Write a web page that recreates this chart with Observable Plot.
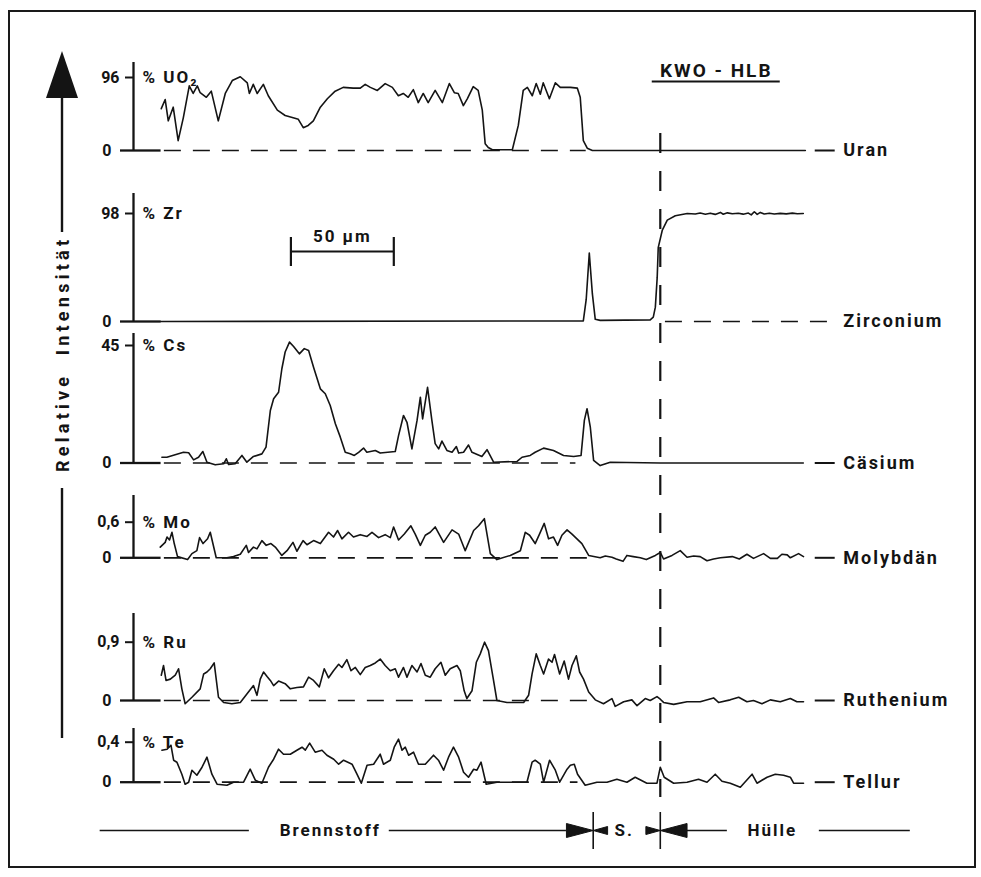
<!DOCTYPE html>
<html><head><meta charset="utf-8">
<script src="https://cdn.jsdelivr.net/npm/d3@7"></script>
<script src="https://cdn.jsdelivr.net/npm/@observablehq/plot@0.6"></script>
<style>
body{margin:0;background:#fff;}
#chart{position:relative;width:981px;height:877px;background:#fff;overflow:hidden;}
#chart svg{position:absolute;left:0;top:0;}
#chart g[aria-label="text"] text{letter-spacing:2px;}
.frame{position:absolute;left:8px;top:10px;width:964px;height:854px;border:2px solid #1a1a1a;}
</style></head><body>
<div id="chart"><div class="frame"></div></div>
<script>
// ---------------- data (x in µm, 0 = fuel/cladding interface) ----------------
const elements = ["Uran","Zirconium","Cäsium","Molybdän","Ruthenium","Tellur"];
const unitLabels = ["% UO₂","% Zr","% Cs","% Mo","% Ru","% Te"];
const maxima = [96, 98, 45, 0.6, 0.9, 0.4];
const maxLabels = ["96","98","45","0,6","0,9","0,4"];
const scaleBar = [-179.5, -129.5];      // 50 µm
const zoneNames = ["Brennstoff","S.","Hülle"];
const zoneBounds = [-32.6, 0];
const title = "KWO - HLB";

const uranData = [[-242.5,55],[-240.6,67],[-239.1,39],[-236.7,57],[-234.3,13],[-231.8,43],[-228.9,85],[-227,75],[-225,85],[-223.6,76],[-220.6,70],[-218.2,78],[-214.8,39],[-211.4,75],[-208,92],[-204.1,97],[-200.7,89],[-199.7,75],[-197.8,87],[-195.9,75],[-192.9,87],[-190.5,72],[-186.1,53],[-182.3,46],[-178.4,43],[-175.9,41],[-173.5,30],[-171.1,33],[-168.6,39],[-165.2,57],[-161.8,68],[-158,78],[-154.1,83],[-149.2,82],[-145.8,82],[-143.4,87],[-140.9,83],[-137.5,79],[-133.7,88],[-130.2,83],[-127.3,72],[-124.9,75],[-122.5,70],[-120,80],[-117.6,63],[-115.2,75],[-112.8,63],[-109.4,79],[-105.9,63],[-102.5,88],[-100.1,76],[-98.2,75],[-95.7,59],[-93.8,68],[-90.9,84],[-88.5,79],[-86.5,53],[-85.1,9],[-83.6,4],[-81.6,1],[-71.9,1],[-69,33],[-66.6,79],[-64.6,83],[-62.2,72],[-60.3,88],[-58.3,74],[-56.9,89],[-53.9,68],[-51,89],[-48.6,83],[-43.7,83],[-40.3,82],[-38.9,70],[-37.4,13],[-35.5,3],[-33,0],[0,0],[70.5,0]];

const zirconiumData = [[-243,0],[-37.4,0.5],[-36,20],[-34.5,62],[-33,25],[-31.6,2],[-29.2,1],[-4.9,1.5],[-3.4,4],[-2.4,13],[-1.5,40],[-1,67],[1,83],[3.4,92],[7.3,96],[13.1,98],[17,97.5],[19.4,98.5],[21.9,97.4],[24.3,98.3],[26.7,97.2],[29.2,99],[30.6,97.3],[32.6,98.6],[35,97.8],[37.9,98.2],[40.3,97.4],[42.8,98.4],[44.2,96.8],[45.7,99.6],[47.1,97.2],[48.6,99],[50.5,97.6],[53,98.3],[55.4,97.6],[58.3,98.1],[61.2,97.7],[64.2,98.3],[66.6,97.8],[69.5,98]];

const caesiumData = [[-242.2,2.2],[-239.8,2.2],[-231.7,4.1],[-229.2,3.9],[-226.8,1.2],[-224.4,2.2],[-222.3,4.4],[-220.3,0.3],[-216.3,-0.7],[-212.2,-0.3],[-210.9,1.6],[-209.8,-0.6],[-206.6,-0.3],[-203.3,2.9],[-200.9,0.3],[-197.7,2.5],[-193.6,3.5],[-191.6,6.1],[-189.5,20.1],[-187.9,24.6],[-185.5,27.1],[-183.9,36.1],[-182.3,42.5],[-180.2,46.3],[-178.2,44.6],[-175.4,41.8],[-173,43.8],[-170.9,43.1],[-168.5,36.7],[-165.2,28.4],[-162.8,26.5],[-160.4,22],[-157.9,15],[-155.5,9.9],[-153.1,4.1],[-150.7,3.5],[-148.7,2.9],[-146.6,4.1],[-144.2,5.7],[-142.6,4.1],[-138.5,4.8],[-136.1,3.8],[-128.8,4.4],[-127.2,10.5],[-124.8,18.2],[-123.1,15.6],[-120.7,5.4],[-118.2,16.3],[-116.6,25.2],[-115.5,16.9],[-113.1,29],[-111,16.3],[-109.4,7.4],[-107.7,5.4],[-106.1,8.4],[-103.7,4.8],[-101.2,4.1],[-99.1,6.3],[-98,3.8],[-95.6,4.1],[-93.2,6.9],[-91.5,4.1],[-86.7,2.5],[-84.2,5.1],[-81,0.3],[-69.6,0.6],[-67.2,2.2],[-63.2,2.9],[-60.8,4.1],[-56.7,5.7],[-51.9,4.8],[-47,2.9],[-42.1,2.5],[-38.5,2.9],[-36.9,16.3],[-35.6,20.8],[-34,13.7],[-32.4,1],[-29.2,-1],[-24.3,0.3],[0,0],[69.5,0]];

const molybdenumData = [[-243,0.18],[-240.6,0.26],[-239.7,0.35],[-238.5,0.3],[-237.3,0.43],[-236.2,0.24],[-234.6,0.02],[-229.7,-0.03],[-227.6,0.07],[-225.2,0.12],[-223.9,0.34],[-222.2,0.24],[-220,0.32],[-218.7,0.43],[-215.8,0],[-210.6,0],[-207.4,0.02],[-204.1,0.06],[-201.2,0.21],[-200.1,0.09],[-197.7,0.18],[-196,0.15],[-193.6,0.29],[-191.5,0.21],[-189.2,0.24],[-187.1,0.18],[-183.9,0.04],[-181.4,0.12],[-178.5,0.26],[-176.6,0.11],[-173.6,0.29],[-171.7,0.22],[-168.5,0.29],[-165.2,0.24],[-161.2,0.43],[-158.8,0.35],[-156.8,0.46],[-154.7,0.32],[-151.5,0.43],[-149.1,0.35],[-145.8,0.39],[-142.5,0.36],[-140.1,0.43],[-136.9,0.34],[-133.7,0.39],[-131.2,0.34],[-129.6,0.52],[-127.2,0.3],[-124.4,0.4],[-121.2,0.54],[-119.1,0.4],[-116.6,0.21],[-114.2,0.38],[-111.8,0.43],[-109.4,0.52],[-105.3,0.26],[-101.2,0.47],[-98,0.4],[-94.8,0.12],[-90.7,0.46],[-88.3,0.54],[-85.5,0.66],[-82.6,0.07],[-79.4,-0.03],[-72.9,0.04],[-68,0.12],[-65.6,0.43],[-63.5,0.38],[-60.8,0.24],[-58.7,0.4],[-56.4,0.58],[-54.3,0.32],[-51.9,0.35],[-49.9,0.21],[-47.8,0.38],[-45.3,0.47],[-42.9,0.4],[-40.5,0.32],[-38.1,0.24],[-34.8,0.04],[-29.2,0],[-26.7,0.03],[-23.5,0.01],[-21.4,-0.02],[-18.1,-0.06],[-16.2,0.04],[-13.1,0.02],[-9.7,0],[-6.8,-0.03],[-2.4,0.04],[0,0.09],[1.6,-0.02],[5.7,0.04],[9.7,0.12],[13,0.01],[16.2,0.03],[19.4,0.02],[22.7,-0.05],[25.9,-0.02],[29.2,0],[35,0.02],[38.4,-0.02],[42.1,0.06],[45.3,-0.01],[50.2,0.07],[53.5,-0.01],[56.9,-0.01],[59.1,0.06],[61.7,0.05],[63.2,0],[67.2,0.07],[69.6,0.02]];

const rutheniumData = [[-242.5,0.39],[-241.4,0.54],[-240.2,0.31],[-238.1,0.33],[-235.7,0.39],[-234.1,0.49],[-232.5,0.18],[-230.9,-0.05],[-227.6,0.05],[-223.6,0.18],[-221.9,0.41],[-220.3,0.44],[-218.7,0.49],[-216.8,0.58],[-214.7,0.05],[-212.2,-0.03],[-208.2,-0.05],[-204.1,-0.03],[-200.9,0.1],[-197.7,0.23],[-196,0.08],[-194.4,0.33],[-192.8,0.44],[-191.1,0.37],[-189.5,0.31],[-187.9,0.23],[-185.5,0.3],[-182.3,0.26],[-179.8,0.18],[-176.6,0.2],[-173.4,0.21],[-170.9,0.36],[-168.5,0.31],[-165.7,0.21],[-163.3,0.49],[-161.2,0.35],[-158.8,0.46],[-156.3,0.56],[-154.7,0.51],[-152.3,0.63],[-150.3,0.46],[-148.2,0.51],[-145.8,0.4],[-143.4,0.51],[-140.9,0.54],[-138.5,0.58],[-136.1,0.64],[-133.7,0.54],[-131.2,0.46],[-128.8,0.49],[-127.2,0.36],[-124.8,0.51],[-123.1,0.36],[-120.7,0.54],[-118.2,0.44],[-116.3,0.57],[-114.2,0.39],[-111.8,0.36],[-109.4,0.49],[-106.6,0.59],[-104.5,0.39],[-102.1,0.49],[-98.8,0.54],[-97.2,0.46],[-95.3,0.15],[-94,0.03],[-91.5,0.15],[-89.4,0.59],[-87.5,0.72],[-85.4,0.9],[-83.5,0.77],[-81.3,0.36],[-79.4,0],[-74.5,-0.03],[-66.4,-0.03],[-64,0.08],[-62.3,0.41],[-60.3,0.72],[-58.3,0.54],[-56.7,0.41],[-54.3,0.64],[-52.6,0.59],[-51.4,0.71],[-48.9,0.41],[-46.7,0.61],[-44.6,0.33],[-42.9,0.54],[-40.8,0.69],[-39.2,0.44],[-37.3,0.33],[-34.8,0.13],[-31.6,0.01],[-27.6,-0.05],[-23.5,0.03],[-21.9,-0.09],[-17.8,-0.02],[-13.8,0.01],[-11.3,-0.08],[-7.3,0.03],[-4.9,0],[-1.6,0.06],[0,0.02],[1.6,-0.03],[6.5,-0.06],[13,-0.02],[19.4,-0.02],[25.9,0.04],[28.3,-0.03],[34,0.01],[38.1,0.05],[42.1,-0.02],[45.3,0],[49.4,-0.05],[53.5,0.01],[58.3,-0.02],[63.2,0.03],[66.4,-0.02],[69.6,-0.02]];

const telluriumData = [[-242.2,0.32],[-239.7,0.33],[-237.8,0.37],[-236.5,0.22],[-234.9,0.2],[-232.5,0.08],[-230.9,-0.02],[-229.2,0],[-227.6,0.12],[-225.2,0.07],[-222.7,0.15],[-220.3,0.25],[-217.9,0.08],[-215.4,-0.02],[-210.6,-0.03],[-207.4,0],[-202.5,0],[-199.3,0.13],[-196.8,0.02],[-193.6,-0.01],[-190.4,0.15],[-187.9,0.23],[-185.5,0.33],[-183.1,0.28],[-179.8,0.28],[-176.6,0.32],[-174.1,0.35],[-172.5,0.32],[-170.4,0.39],[-167.7,0.3],[-164.4,0.32],[-162,0.27],[-158.7,0.23],[-156.3,0.18],[-153.9,0.22],[-149.8,0.18],[-147.4,0.08],[-145.3,-0.01],[-142.5,0.17],[-139.3,0.18],[-136.1,0.28],[-134.5,0.18],[-131.2,0.22],[-129.3,0.35],[-127.2,0.43],[-125.5,0.32],[-123.9,0.35],[-122.3,0.27],[-119.9,0.3],[-117.5,0.18],[-114.2,0.18],[-110.2,0.27],[-107.8,0.22],[-105.3,0.12],[-102.9,0.25],[-100.5,0.35],[-98,0.25],[-95.6,0.1],[-93.2,0.05],[-90.7,0.13],[-89.1,0.12],[-87.1,0.2],[-84.6,-0.02],[-79.4,0],[-72.9,0],[-64.8,0],[-62.3,0.2],[-60.8,0.22],[-58.3,0.18],[-56.7,0],[-53.8,0.22],[-51,0.12],[-48.9,0],[-45.3,0.13],[-43.7,0.17],[-41.8,0.18],[-40.2,0.08],[-36.5,-0.03],[-30.8,0],[-25.9,0],[-21.1,0.03],[-16.2,0],[-12.2,0.05],[-6.5,-0.01],[-1.6,-0.01],[0,0.15],[1.9,0.05],[6.5,-0.01],[13,0],[18.6,0.03],[22.7,0],[26.7,0.08],[30,0.01],[34,-0.01],[38.9,-0.05],[44.6,0.08],[47,-0.01],[51.9,0.05],[55.9,0.08],[59.9,0.07],[63.2,0.05],[64.8,-0.01],[69.6,-0.01]];

const series = [uranData, zirconiumData, caesiumData, molybdenumData, rutheniumData, telluriumData];

// ---------------- layout / style ----------------
const INK = "#141414";
const FONT = "Roboto, 'DejaVu Sans', sans-serif";
const W = 981, H = 877;
const X_DOMAIN = [-256, 73], X_RANGE = [133, 810];
const layout = [
  {zero:150,   max:77,    top:62,  dash:[-241,-36]},
  {zero:321,   max:213,   top:193, dash:[2.5,85]},
  {zero:462.5, max:345,   top:333, dash:[-241,-41]},
  {zero:557.3, max:521.7, top:495, dash:[-241,-35]},
  {zero:700,   max:641.7, top:613, dash:[-241,-33]},
  {zero:781.7, max:741.7, top:728, dash:[-241,-40]}
];
const svgStyle = `background:transparent;overflow:visible;font-family:${FONT};font-weight:700;color:${INK};`;
const chart = document.getElementById("chart");

function panel(i) {
  const L = layout[i];
  const m = maxima[i];
  const axisTop = m * (L.zero - L.top) / (L.zero - L.max);
  return Plot.plot({
    width: W, height: H,
    marginLeft: X_RANGE[0], marginRight: W - X_RANGE[1], marginTop: 0, marginBottom: 0,
    style: svgStyle,
    x: {domain: X_DOMAIN, range: X_RANGE, axis: null},
    y: {domain: [0, m], range: [L.zero, L.max], axis: null},
    marks: [
      Plot.ruleY([0], {x1: L.dash[0], x2: L.dash[1], stroke: INK, strokeWidth: 1.7, strokeDasharray: "17,12"}),
      Plot.ruleX([X_DOMAIN[0]], {y1: 0, y2: axisTop, stroke: INK, strokeWidth: 2.3}),
      Plot.ruleY([0], {x1: X_DOMAIN[0], x2: -242.6, stroke: INK, strokeWidth: 2.3}),
      Plot.axisY({ticks: [m], anchor: "left", tickSize: 8, tickPadding: 6, tickFormat: () => maxLabels[i], fontSize: 16, strokeWidth: 2, label: null}),
      Plot.axisY({ticks: [0], anchor: "left", tickSize: 13, tickPadding: 9, tickFormat: () => "0", fontSize: 16, strokeWidth: 2.3, label: null}),
      Plot.line(series[i], {x: d => d[0], y: d => d[1], stroke: INK, strokeWidth: 1.6, strokeLinejoin: "round"}),
      Plot.text([unitLabels[i]], {x: X_DOMAIN[0], y: m, dx: 9, textAnchor: "start", fontSize: 17, fill: INK}),
      i === 1 ? null : Plot.ruleY([0], {x1: 75.3, x2: 85, stroke: INK, strokeWidth: 2}),
      Plot.text([elements[i]], {x: 88.9, y: 0, textAnchor: "start", fontSize: 18, fill: INK})
    ]
  });
}
for (let i = 0; i < series.length; i++) chart.appendChild(panel(i));

// overlay: interface line, title, scale bar, zones
const b0 = zoneBounds[0], b1 = zoneBounds[1];
const yZ = 830;
function tri(tip, len, half, id) { return [[tip, yZ, id], [tip - len, yZ - half, id], [tip - len, yZ + half, id], [tip, yZ, id]]; }
const heads = [...tri(b0, 13, 7, "a"), ...tri(b0, -7, 4, "b"), ...tri(b1, 7, 4, "c"), ...tri(b1, -13, 7, "d")];
const zoneLines = [[-272.2, -199.7], [-131.7, b0 - 13], [b1 + 13, 32.6], [77.3, 121.5]];
const zoneText = [[-160.4, zoneNames[0]], [-17.5, zoneNames[1]], [54.4, zoneNames[2]]];

const overlay = Plot.plot({
  width: W, height: H,
  marginLeft: X_RANGE[0], marginRight: W - X_RANGE[1], marginTop: 0, marginBottom: 0,
  style: svgStyle,
  x: {domain: X_DOMAIN, range: X_RANGE, axis: null},
  y: {type: "identity", axis: null},
  marks: [
    Plot.ruleX([b1], {y1: 133, y2: 797, stroke: INK, strokeWidth: 2.2, strokeDasharray: "20,18"}),
    Plot.text([title], {x: 27.2, y: 70, fontSize: 19, fill: INK}),
    Plot.ruleY([81], {x1: -3.9, x2: 58.3, stroke: INK, strokeWidth: 2.2}),
    Plot.ruleY([251], {x1: scaleBar[0], x2: scaleBar[1], stroke: INK, strokeWidth: 2.2}),
    Plot.ruleX(scaleBar, {y1: 237, y2: 266, stroke: INK, strokeWidth: 2.2}),
    Plot.text(["50 µm"], {x: (scaleBar[0] + scaleBar[1]) / 2, y: 236, fontSize: 17, fill: INK}),
    Plot.ruleY(zoneLines, {y: () => yZ, x1: d => d[0], x2: d => d[1], stroke: INK, strokeWidth: 1.6}),
    Plot.line(heads, {x: d => d[0], y: d => d[1], z: d => d[2], fill: INK, stroke: INK, strokeWidth: 1}),
    Plot.ruleX(zoneBounds, {y1: 812, y2: 849, stroke: INK, strokeWidth: 1.6}),
    Plot.text(zoneText, {x: d => d[0], y: () => yZ, text: d => d[1], fontSize: 17, fill: INK})
  ]
});
chart.appendChild(overlay);

// left "Relative Intensität" arrow
const ns = "http://www.w3.org/2000/svg";
const left = document.createElementNS(ns, "svg");
left.setAttribute("width", W); left.setAttribute("height", H);
left.style.pointerEvents = "none";
left.innerHTML = `
  <polygon points="62,51 46,98 78,98" fill="${INK}"/>
  <line x1="62" y1="97" x2="62" y2="232" stroke="${INK}" stroke-width="2.4"/>
  <line x1="62" y1="488" x2="62" y2="738" stroke="${INK}" stroke-width="2.4"/>
  <text transform="translate(69,472) rotate(-90)" font-family="${FONT}" font-weight="700" font-size="18" fill="${INK}" textLength="232" lengthAdjust="spacing" xml:space="preserve">Relative  Intensität</text>`;
chart.appendChild(left);
</script>
</body></html>
